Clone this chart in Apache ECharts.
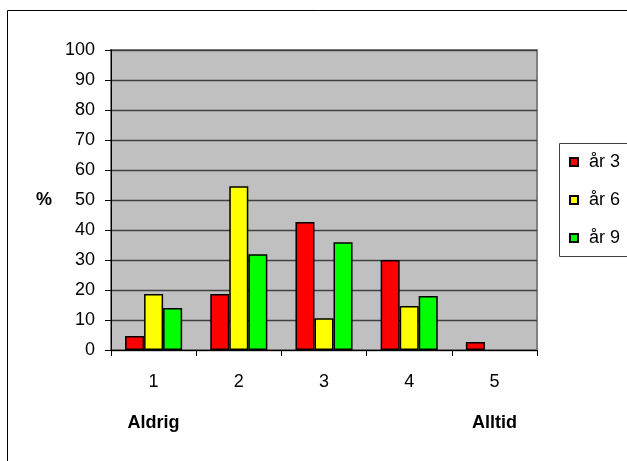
<!DOCTYPE html>
<html>
<head>
<meta charset="utf-8">
<script src="https://cdn.jsdelivr.net/npm/echarts@6/dist/echarts.min.js"></script>
<style>
  html, body { margin: 0; padding: 0; background: #ffffff; }
  #chart { width: 627px; height: 461px; }
</style>
</head>
<body>
<div id="chart"></div>
<script>
// Answer scale 1 (Aldrig) .. 5 (Alltid), share of pupils in %
const categories = ['1', '2', '3', '4', '5'];
const scaleEnds = ['Aldrig', '', '', '', 'Alltid'];
const seriesNames = ['år 3', 'år 6', 'år 9'];
const ar3 = [4.7, 18.7, 42.7, 30, 2.7];
const ar6 = [18.7, 54.6, 10.6, 14.7, 0];
const ar9 = [14, 31.9, 35.9, 18, 0];
const yTicks = { min: 0, max: 100, step: 10 };

const colors = ['#ff0000', '#ffff00', '#00ff00'];
const FONT = '"Liberation Sans", Arial, sans-serif';
const FS = 18;

const chart = echarts.init(document.getElementById('chart'));

function barSeries(name, data, color) {
  return {
    name: name,
    type: 'bar',
    // empty answers get no outline, so nothing shows at zero height
    data: data.map(function (v) {
      return v === 0 ? { value: v, itemStyle: { borderWidth: 0 } } : v;
    }),
    barGap: '0%',
    barCategoryGap: '33%',
    itemStyle: { color: color, borderColor: '#000000', borderWidth: 1.5 },
    emphasis: { disabled: true }
  };
}

chart.setOption({
  animation: false,
  textStyle: { fontFamily: FONT },
  grid: {
    left: 111, top: 50, width: 426, height: 300,
    show: true, backgroundColor: '#c0c0c0',
    borderColor: '#808080', borderWidth: 2
  },
  legend: {
    orient: 'vertical',
    left: 569, top: 152,
    padding: 0,
    itemWidth: 8, itemHeight: 8,
    itemGap: 18,
    icon: 'rect',
    textStyle: { fontSize: FS, color: '#000', fontFamily: FONT, lineHeight: 20, padding: [0, 0, 0, 6] },
    data: seriesNames
  },
  xAxis: {
    type: 'category',
    data: categories,
    axisLine: { lineStyle: { color: '#000', width: 1 } },
    axisTick: { show: true, length: 6, lineStyle: { color: '#000' } },
    axisLabel: {
      interval: 0,
      margin: 22,
      color: '#000',
      fontSize: FS,
      fontFamily: FONT,
      formatter: function (v, i) {
        const end = scaleEnds[i];
        return end ? '{n|' + v + '}\n{s|}\n{b|' + end + '}' : '{n|' + v + '}';
      },
      rich: {
        n: { fontSize: FS, lineHeight: 20, fontFamily: FONT, color: '#000' },
        s: { lineHeight: 21 },
        b: { fontSize: FS, lineHeight: 20, fontWeight: 'bold', fontFamily: FONT, color: '#000' }
      }
    },
    splitLine: { show: false }
  },
  yAxis: {
    type: 'value',
    min: yTicks.min, max: yTicks.max, interval: yTicks.step,
    name: '%',
    nameLocation: 'middle',
    nameRotate: 0,
    nameGap: 59,
    nameTextStyle: { fontSize: FS, fontWeight: 'bold', color: '#000', fontFamily: FONT },
    axisLine: { show: true, lineStyle: { color: '#000', width: 1 } },
    axisTick: { show: true, length: 6, lineStyle: { color: '#000' } },
    axisLabel: { margin: 16, color: '#000', fontSize: FS, fontFamily: FONT },
    splitLine: { show: true, lineStyle: { color: '#404040', width: 1.3 } }
  },
  graphic: [
    {
      type: 'rect', silent: true, z: -1,
      shape: { x: 7.5, y: 10.5, width: 700, height: 500 },
      style: { fill: 'none', stroke: '#000', lineWidth: 1 }
    },
    {
      type: 'rect', silent: true,
      shape: { x: 559.5, y: 143.5, width: 100, height: 113 },
      style: { fill: '#fff', stroke: '#404040', lineWidth: 1 },
      z: 0
    }
  ],
  series: [
    barSeries(seriesNames[0], ar3, colors[0]),
    barSeries(seriesNames[1], ar6, colors[1]),
    barSeries(seriesNames[2], ar9, colors[2])
  ]
});
</script>
</body>
</html>
